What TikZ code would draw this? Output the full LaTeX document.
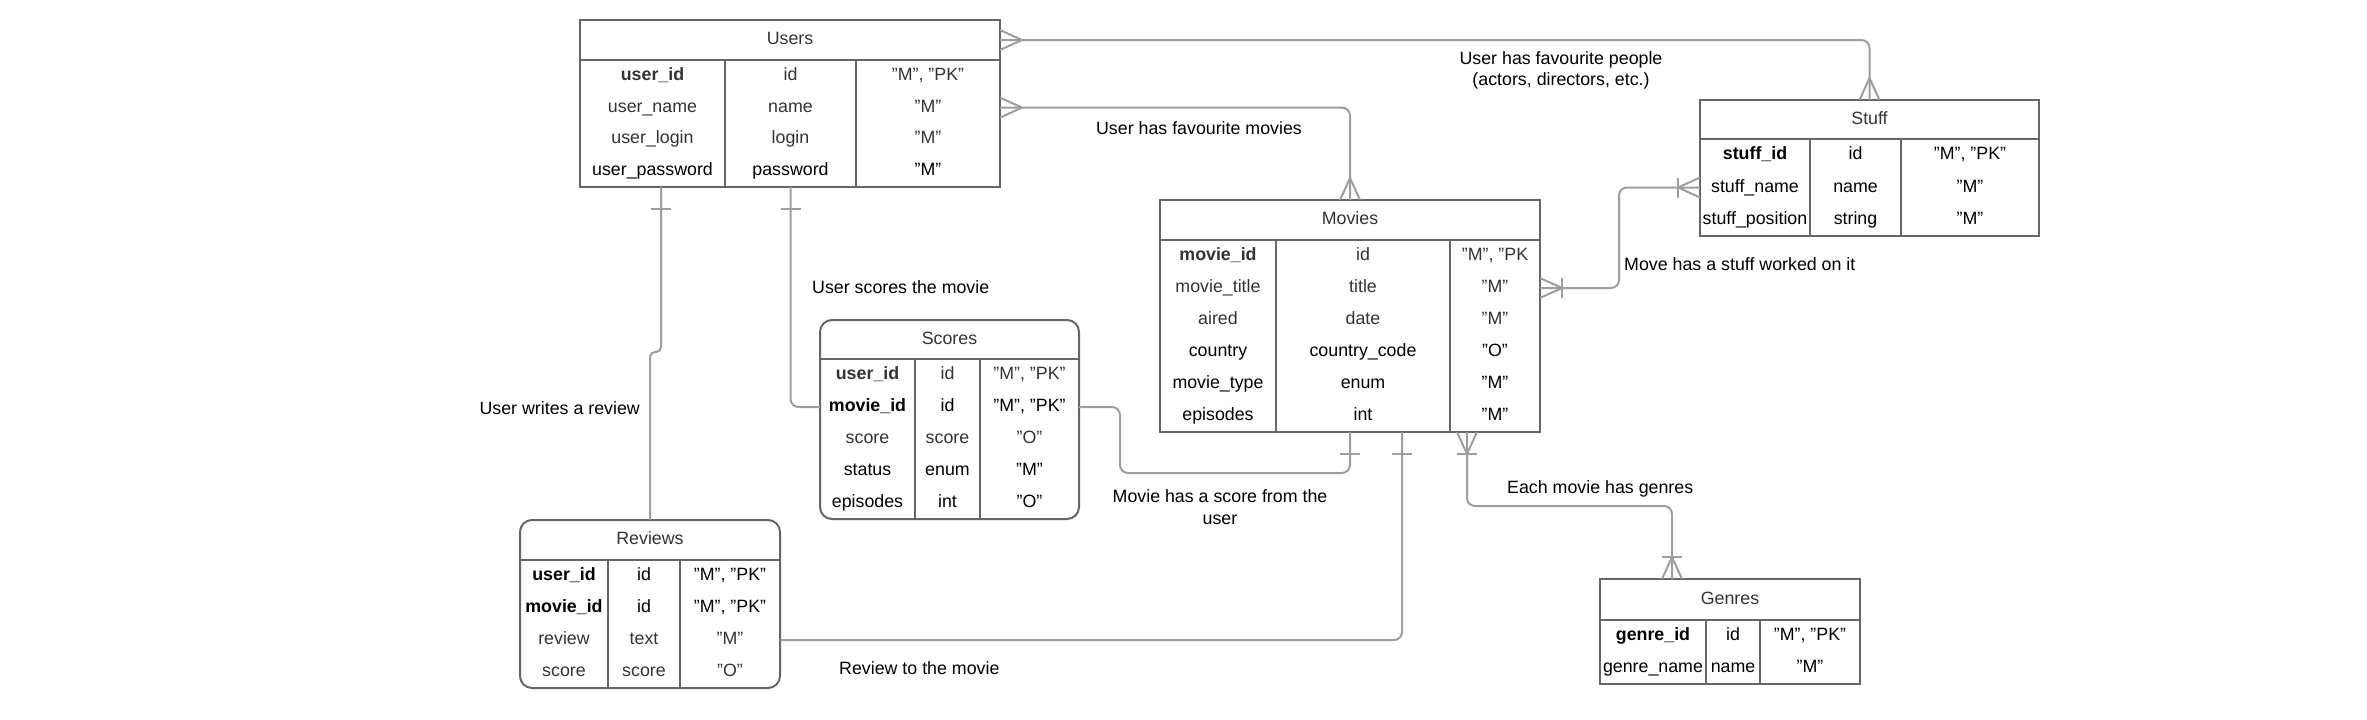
\documentclass[tikz,border=0pt]{standalone}
\usepackage{fontspec}
\setmainfont{Liberation Sans}
\usetikzlibrary{fit,calc}
\definecolor{frameC}{HTML}{666666}
\definecolor{connC}{HTML}{9E9E9E}
\definecolor{txtG}{HTML}{333333}
\tikzset{
  every node/.style={font=\fontsize{17.8}{21.5}\selectfont},
  tblframe/.style={draw=frameC, line width=2pt, inner sep=0pt, outer sep=0pt},
  tabc/.style={sharp corners},
  divline/.style={draw=frameC, line width=2pt},
  cell/.style={anchor=base, inner sep=0pt},
  rowbox/.style={inner sep=0pt, outer sep=0pt},
  conn/.style={draw=connC, line width=2pt, rounded corners=8pt},
  crow/.style={draw=connC, line width=2pt, sharp corners},
  lbl/.style={text=black, inner sep=0pt},
}
% #1 name, #2 left, #3 top, #4 right, #5 bottom, #6 header bottom, #7 div1, #8 div2, #9 title
\newcommand\ertable[9]{%
  \node[tblframe,tabc,fit={(#2,#3) (#4,#5)}] (#1) {};
  \node[rowbox,fit={(#2,#3) (#4,#6)}] (#1-h) {};
  \node[cell,text=txtG] (#1-t) at ($(#1-h.center)+(0,4.5)$) {#9};
  \draw[divline] (#1-h.south west) -- (#1-h.south east);
  \draw[divline] (#1-h.south -| #7,0) -- (#1.south -| #7,0);
  \draw[divline] (#1-h.south -| #8,0) -- (#1.south -| #8,0);
  \def\curname{#1}%
  \pgfmathsetmacro\curhb{#6}%
  \pgfmathsetmacro\currh{(#5-#6)/\nrows}%
  \pgfmathsetmacro\cxa{(#2+#7)/2}%
  \pgfmathsetmacro\cxb{(#7+#8)/2}%
  \pgfmathsetmacro\cxc{(#8+#4)/2}%
  \def\curL{#2}\def\curR{#4}%
}
\newcommand\errow[5][txtG]{%
  \pgfmathsetmacro\cy{\curhb+\currh*(#2-0.5)}%
  \pgfmathsetmacro\ytop{\curhb+\currh*(#2-1)}%
  \pgfmathsetmacro\ybot{\curhb+\currh*#2}%
  \node[rowbox,fit={(\curL,\ytop) (\curR,\ybot)}] (\curname-r#2) {};
  \node[cell,text=#1] (\curname-#2a) at (\cxa,\cy+4.5) {#3};
  \node[cell,text=#1] (\curname-#2b) at (\cxb,\cy+4.5) {#4};
  \node[cell,text=#1] (\curname-#2c) at (\cxc,\cy+4.5) {#5};
}
\newcommand\many[2]{\draw[crow,shift={#1},rotate=#2] (0,10) -- (22,0) -- (0,-10);}
\newcommand\one[2]{\draw[crow,shift={#1},rotate=#2] (22,10) -- (22,-10);}
\newcommand\manyone[2]{\many{#1}{#2}\one{#1}{#2}}
\begin{document}
\begin{tikzpicture}[x=1pt,y=-1pt]
\path[fill=white] (0,0) rectangle (2367,720);
\useasboundingbox (0,0) rectangle (2367,720);

% Users
\def\nrows{4}
\ertable{users}{580}{20}{1000}{187}{60}{725}{856}{Users}
\errow{1}{\textbf{user\_id}}{id}{"M", "PK"}
\errow{2}{user\_name}{name}{"M"}
\errow{3}{user\_login}{login}{"M"}
\errow[black]{4}{user\_password}{password}{"M"}

% Movies
\def\nrows{6}
\ertable{movies}{1160}{200}{1540}{432}{240}{1276}{1450}{Movies}
\errow{1}{\textbf{movie\_id}}{id}{"M", "PK}
\errow{2}{movie\_title}{title}{"M"}
\errow{3}{aired}{date}{"M"}
\errow[black]{4}{country}{country\_code}{"O"}
\errow[black]{5}{movie\_type}{enum}{"M"}
\errow[black]{6}{episodes}{int}{"M"}

% Stuff
\def\nrows{3}
\ertable{stuff}{1700}{100}{2039}{236}{139}{1810}{1901}{Stuff}
\errow[black]{1}{\textbf{stuff\_id}}{id}{"M", "PK"}
\errow[black]{2}{stuff\_name}{name}{"M"}
\errow[black]{3}{stuff\_position}{string}{"M"}

% Scores
\tikzset{tabc/.style={rounded corners=12pt}}
\def\nrows{5}
\ertable{scores}{820}{320}{1079}{519}{359}{915}{980}{Scores}
\errow{1}{\textbf{user\_id}}{id}{"M", "PK"}
\errow[black]{2}{\textbf{movie\_id}}{id}{"M", "PK"}
\errow{3}{score}{score}{"O"}
\errow[black]{4}{status}{enum}{"M"}
\errow[black]{5}{episodes}{int}{"O"}

% Reviews
\def\nrows{4}
\ertable{reviews}{520}{520}{780}{688}{560}{608}{680}{Reviews}
\errow[black]{1}{\textbf{user\_id}}{id}{"M", "PK"}
\errow[black]{2}{\textbf{movie\_id}}{id}{"M", "PK"}
\errow{3}{review}{text}{"M"}
\errow{4}{score}{score}{"O"}

% Genres
\tikzset{tabc/.style={sharp corners}}
\def\nrows{2}
\ertable{genres}{1600}{579}{1860}{684}{620}{1706}{1760}{Genres}
\errow[black]{1}{\textbf{genre\_id}}{id}{"M", "PK"}
\errow[black]{2}{genre\_name}{name}{"M"}

% attachment points on node borders
\coordinate (ub1) at (users.south -| 661,0);
\coordinate (ub2) at (users.south -| users-1b);
\coordinate (mb2) at (movies.south -| 1402,0);
\coordinate (mb3) at (movies.south -| 1467,0);
\coordinate (gtop) at (genres.north -| 1672,0);

% connectors
\draw[conn] (users-h.east) -| (stuff.north);
\draw[conn] (users-r2.east) -| (movies.north);
\draw[conn,rounded corners=5pt] (ub1) |- ($(reviews.north)+(0,-168)$) -- (reviews.north);
\draw[conn] (ub2) |- (scores-r2.west);
\draw[conn] (scores-r2.east) -- ($(scores-r2.east)+(41,0)$) |- ($(movies.south)+(0,41)$) -- (movies.south);
\draw[conn] (reviews-r3.east) -| (mb2);
\draw[conn] (mb3) |- ($(gtop)+(0,-73)$) -- (gtop);
\draw[conn] (movies-r2.east) -- ($(movies-r2.east)+(79,0)$) |- (stuff-r2.west);

% cardinality marks
\many{(users-h.east)}{0}
\many{(stuff.north)}{90}
\many{(users-r2.east)}{0}
\many{(movies.north)}{90}
\one{(ub1)}{-90}
\one{(ub2)}{-90}
\one{(movies.south)}{-90}
\one{(mb2)}{-90}
\manyone{(mb3)}{-90}
\manyone{(gtop)}{90}
\manyone{(movies-r2.east)}{0}
\manyone{(stuff-r2.west)}{180}

% labels
\node[lbl,anchor=base] (l1) at (1199,134.5) {User has favourite movies};
\node[lbl,align=center] (l2) at (1561,70.6) {User has favourite people\\(actors, directors, etc.)};
\node[lbl,anchor=base west] (l3) at (812,293) {User scores the movie};
\node[lbl,anchor=base east] (l4) at (640,414) {User writes a review};
\node[lbl,anchor=base west] (l5) at (1624,270) {Move has a stuff worked on it};
\node[lbl,align=center] (l6) at (1220,507) {Movie has a score from the\\user};
\node[lbl,anchor=base west] (l7) at (839,674) {Review to the movie};
\node[lbl,anchor=base west] (l8) at (1507,493.5) {Each movie has genres};
\end{tikzpicture}
\end{document}
